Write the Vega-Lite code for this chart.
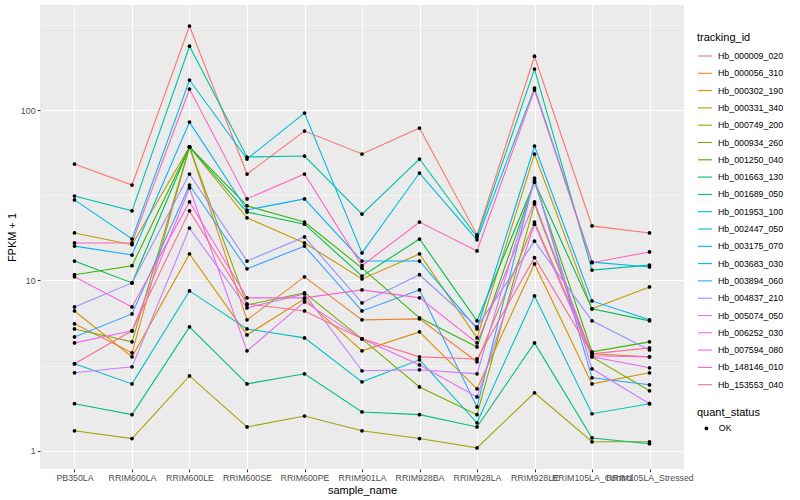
{
"$schema": "https://vega.github.io/schema/vega-lite/v6.json",
"width": 644, "height": 464,
"autosize": {"type": "none"},
"padding": {"left": 40, "top": 5, "right": 116, "bottom": 31},
"background": "white",
"config": {"view": {"fill": "#EBEBEB", "stroke": null}, "font": "Liberation Sans"},
"datasets": {"expr": [
{"tracking_id":"Hb_000009_020","sample_name":"PB350LA","fpkm_plus_1":48.2,"quant_status":"OK"},
{"tracking_id":"Hb_000009_020","sample_name":"RRIM600LA","fpkm_plus_1":36.3,"quant_status":"OK"},
{"tracking_id":"Hb_000009_020","sample_name":"RRIM600LE","fpkm_plus_1":311,"quant_status":"OK"},
{"tracking_id":"Hb_000009_020","sample_name":"RRIM600SE","fpkm_plus_1":42.1,"quant_status":"OK"},
{"tracking_id":"Hb_000009_020","sample_name":"RRIM600PE","fpkm_plus_1":75.3,"quant_status":"OK"},
{"tracking_id":"Hb_000009_020","sample_name":"RRIM901LA","fpkm_plus_1":55.2,"quant_status":"OK"},
{"tracking_id":"Hb_000009_020","sample_name":"RRIM928BA","fpkm_plus_1":78.4,"quant_status":"OK"},
{"tracking_id":"Hb_000009_020","sample_name":"RRIM928LA","fpkm_plus_1":18.5,"quant_status":"OK"},
{"tracking_id":"Hb_000009_020","sample_name":"RRIM928LE","fpkm_plus_1":207,"quant_status":"OK"},
{"tracking_id":"Hb_000009_020","sample_name":"RRIM105LA_Control","fpkm_plus_1":20.9,"quant_status":"OK"},
{"tracking_id":"Hb_000009_020","sample_name":"RRIM105LA_Stressed","fpkm_plus_1":19.0,"quant_status":"OK"},
{"tracking_id":"Hb_000056_310","sample_name":"PB350LA","fpkm_plus_1":5.56,"quant_status":"OK"},
{"tracking_id":"Hb_000056_310","sample_name":"RRIM600LA","fpkm_plus_1":3.76,"quant_status":"OK"},
{"tracking_id":"Hb_000056_310","sample_name":"RRIM600LE","fpkm_plus_1":60.7,"quant_status":"OK"},
{"tracking_id":"Hb_000056_310","sample_name":"RRIM600SE","fpkm_plus_1":5.87,"quant_status":"OK"},
{"tracking_id":"Hb_000056_310","sample_name":"RRIM600PE","fpkm_plus_1":10.5,"quant_status":"OK"},
{"tracking_id":"Hb_000056_310","sample_name":"RRIM901LA","fpkm_plus_1":5.87,"quant_status":"OK"},
{"tracking_id":"Hb_000056_310","sample_name":"RRIM928BA","fpkm_plus_1":5.95,"quant_status":"OK"},
{"tracking_id":"Hb_000056_310","sample_name":"RRIM928LA","fpkm_plus_1":3.33,"quant_status":"OK"},
{"tracking_id":"Hb_000056_310","sample_name":"RRIM928LE","fpkm_plus_1":22.0,"quant_status":"OK"},
{"tracking_id":"Hb_000056_310","sample_name":"RRIM105LA_Control","fpkm_plus_1":3.71,"quant_status":"OK"},
{"tracking_id":"Hb_000056_310","sample_name":"RRIM105LA_Stressed","fpkm_plus_1":3.56,"quant_status":"OK"},
{"tracking_id":"Hb_000302_190","sample_name":"PB350LA","fpkm_plus_1":6.62,"quant_status":"OK"},
{"tracking_id":"Hb_000302_190","sample_name":"RRIM600LA","fpkm_plus_1":3.56,"quant_status":"OK"},
{"tracking_id":"Hb_000302_190","sample_name":"RRIM600LE","fpkm_plus_1":14.3,"quant_status":"OK"},
{"tracking_id":"Hb_000302_190","sample_name":"RRIM600SE","fpkm_plus_1":4.79,"quant_status":"OK"},
{"tracking_id":"Hb_000302_190","sample_name":"RRIM600PE","fpkm_plus_1":7.79,"quant_status":"OK"},
{"tracking_id":"Hb_000302_190","sample_name":"RRIM901LA","fpkm_plus_1":3.86,"quant_status":"OK"},
{"tracking_id":"Hb_000302_190","sample_name":"RRIM928BA","fpkm_plus_1":4.99,"quant_status":"OK"},
{"tracking_id":"Hb_000302_190","sample_name":"RRIM928LA","fpkm_plus_1":2.31,"quant_status":"OK"},
{"tracking_id":"Hb_000302_190","sample_name":"RRIM928LE","fpkm_plus_1":12.5,"quant_status":"OK"},
{"tracking_id":"Hb_000302_190","sample_name":"RRIM105LA_Control","fpkm_plus_1":2.47,"quant_status":"OK"},
{"tracking_id":"Hb_000302_190","sample_name":"RRIM105LA_Stressed","fpkm_plus_1":2.87,"quant_status":"OK"},
{"tracking_id":"Hb_000331_340","sample_name":"PB350LA","fpkm_plus_1":19.0,"quant_status":"OK"},
{"tracking_id":"Hb_000331_340","sample_name":"RRIM600LA","fpkm_plus_1":16.2,"quant_status":"OK"},
{"tracking_id":"Hb_000331_340","sample_name":"RRIM600LE","fpkm_plus_1":60.7,"quant_status":"OK"},
{"tracking_id":"Hb_000331_340","sample_name":"RRIM600SE","fpkm_plus_1":23.3,"quant_status":"OK"},
{"tracking_id":"Hb_000331_340","sample_name":"RRIM600PE","fpkm_plus_1":16.6,"quant_status":"OK"},
{"tracking_id":"Hb_000331_340","sample_name":"RRIM901LA","fpkm_plus_1":10.2,"quant_status":"OK"},
{"tracking_id":"Hb_000331_340","sample_name":"RRIM928BA","fpkm_plus_1":14.3,"quant_status":"OK"},
{"tracking_id":"Hb_000331_340","sample_name":"RRIM928LA","fpkm_plus_1":4.60,"quant_status":"OK"},
{"tracking_id":"Hb_000331_340","sample_name":"RRIM928LE","fpkm_plus_1":55.2,"quant_status":"OK"},
{"tracking_id":"Hb_000331_340","sample_name":"RRIM105LA_Control","fpkm_plus_1":6.81,"quant_status":"OK"},
{"tracking_id":"Hb_000331_340","sample_name":"RRIM105LA_Stressed","fpkm_plus_1":9.16,"quant_status":"OK"},
{"tracking_id":"Hb_000749_200","sample_name":"PB350LA","fpkm_plus_1":1.31,"quant_status":"OK"},
{"tracking_id":"Hb_000749_200","sample_name":"RRIM600LA","fpkm_plus_1":1.18,"quant_status":"OK"},
{"tracking_id":"Hb_000749_200","sample_name":"RRIM600LE","fpkm_plus_1":2.75,"quant_status":"OK"},
{"tracking_id":"Hb_000749_200","sample_name":"RRIM600SE","fpkm_plus_1":1.38,"quant_status":"OK"},
{"tracking_id":"Hb_000749_200","sample_name":"RRIM600PE","fpkm_plus_1":1.60,"quant_status":"OK"},
{"tracking_id":"Hb_000749_200","sample_name":"RRIM901LA","fpkm_plus_1":1.31,"quant_status":"OK"},
{"tracking_id":"Hb_000749_200","sample_name":"RRIM928BA","fpkm_plus_1":1.18,"quant_status":"OK"},
{"tracking_id":"Hb_000749_200","sample_name":"RRIM928LA","fpkm_plus_1":1.04,"quant_status":"OK"},
{"tracking_id":"Hb_000749_200","sample_name":"RRIM928LE","fpkm_plus_1":2.19,"quant_status":"OK"},
{"tracking_id":"Hb_000749_200","sample_name":"RRIM105LA_Control","fpkm_plus_1":1.13,"quant_status":"OK"},
{"tracking_id":"Hb_000749_200","sample_name":"RRIM105LA_Stressed","fpkm_plus_1":1.13,"quant_status":"OK"},
{"tracking_id":"Hb_000934_260","sample_name":"PB350LA","fpkm_plus_1":5.19,"quant_status":"OK"},
{"tracking_id":"Hb_000934_260","sample_name":"RRIM600LA","fpkm_plus_1":4.36,"quant_status":"OK"},
{"tracking_id":"Hb_000934_260","sample_name":"RRIM600LE","fpkm_plus_1":60.7,"quant_status":"OK"},
{"tracking_id":"Hb_000934_260","sample_name":"RRIM600SE","fpkm_plus_1":7.18,"quant_status":"OK"},
{"tracking_id":"Hb_000934_260","sample_name":"RRIM600PE","fpkm_plus_1":8.45,"quant_status":"OK"},
{"tracking_id":"Hb_000934_260","sample_name":"RRIM901LA","fpkm_plus_1":4.54,"quant_status":"OK"},
{"tracking_id":"Hb_000934_260","sample_name":"RRIM928BA","fpkm_plus_1":2.37,"quant_status":"OK"},
{"tracking_id":"Hb_000934_260","sample_name":"RRIM928LA","fpkm_plus_1":1.63,"quant_status":"OK"},
{"tracking_id":"Hb_000934_260","sample_name":"RRIM928LE","fpkm_plus_1":28.1,"quant_status":"OK"},
{"tracking_id":"Hb_000934_260","sample_name":"RRIM105LA_Control","fpkm_plus_1":3.56,"quant_status":"OK"},
{"tracking_id":"Hb_000934_260","sample_name":"RRIM105LA_Stressed","fpkm_plus_1":2.25,"quant_status":"OK"},
{"tracking_id":"Hb_001250_040","sample_name":"PB350LA","fpkm_plus_1":10.8,"quant_status":"OK"},
{"tracking_id":"Hb_001250_040","sample_name":"RRIM600LA","fpkm_plus_1":12.2,"quant_status":"OK"},
{"tracking_id":"Hb_001250_040","sample_name":"RRIM600LE","fpkm_plus_1":60.7,"quant_status":"OK"},
{"tracking_id":"Hb_001250_040","sample_name":"RRIM600SE","fpkm_plus_1":27.4,"quant_status":"OK"},
{"tracking_id":"Hb_001250_040","sample_name":"RRIM600PE","fpkm_plus_1":22.0,"quant_status":"OK"},
{"tracking_id":"Hb_001250_040","sample_name":"RRIM901LA","fpkm_plus_1":11.8,"quant_status":"OK"},
{"tracking_id":"Hb_001250_040","sample_name":"RRIM928BA","fpkm_plus_1":6.03,"quant_status":"OK"},
{"tracking_id":"Hb_001250_040","sample_name":"RRIM928LA","fpkm_plus_1":4.07,"quant_status":"OK"},
{"tracking_id":"Hb_001250_040","sample_name":"RRIM928LE","fpkm_plus_1":37.8,"quant_status":"OK"},
{"tracking_id":"Hb_001250_040","sample_name":"RRIM105LA_Control","fpkm_plus_1":3.81,"quant_status":"OK"},
{"tracking_id":"Hb_001250_040","sample_name":"RRIM105LA_Stressed","fpkm_plus_1":4.36,"quant_status":"OK"},
{"tracking_id":"Hb_001663_130","sample_name":"PB350LA","fpkm_plus_1":13.0,"quant_status":"OK"},
{"tracking_id":"Hb_001663_130","sample_name":"RRIM600LA","fpkm_plus_1":9.67,"quant_status":"OK"},
{"tracking_id":"Hb_001663_130","sample_name":"RRIM600LE","fpkm_plus_1":60.7,"quant_status":"OK"},
{"tracking_id":"Hb_001663_130","sample_name":"RRIM600SE","fpkm_plus_1":25.2,"quant_status":"OK"},
{"tracking_id":"Hb_001663_130","sample_name":"RRIM600PE","fpkm_plus_1":21.4,"quant_status":"OK"},
{"tracking_id":"Hb_001663_130","sample_name":"RRIM901LA","fpkm_plus_1":10.6,"quant_status":"OK"},
{"tracking_id":"Hb_001663_130","sample_name":"RRIM928BA","fpkm_plus_1":17.5,"quant_status":"OK"},
{"tracking_id":"Hb_001663_130","sample_name":"RRIM928LA","fpkm_plus_1":5.79,"quant_status":"OK"},
{"tracking_id":"Hb_001663_130","sample_name":"RRIM928LE","fpkm_plus_1":37.8,"quant_status":"OK"},
{"tracking_id":"Hb_001663_130","sample_name":"RRIM105LA_Control","fpkm_plus_1":6.81,"quant_status":"OK"},
{"tracking_id":"Hb_001663_130","sample_name":"RRIM105LA_Stressed","fpkm_plus_1":5.79,"quant_status":"OK"},
{"tracking_id":"Hb_001689_050","sample_name":"PB350LA","fpkm_plus_1":1.89,"quant_status":"OK"},
{"tracking_id":"Hb_001689_050","sample_name":"RRIM600LA","fpkm_plus_1":1.63,"quant_status":"OK"},
{"tracking_id":"Hb_001689_050","sample_name":"RRIM600LE","fpkm_plus_1":5.34,"quant_status":"OK"},
{"tracking_id":"Hb_001689_050","sample_name":"RRIM600SE","fpkm_plus_1":2.47,"quant_status":"OK"},
{"tracking_id":"Hb_001689_050","sample_name":"RRIM600PE","fpkm_plus_1":2.83,"quant_status":"OK"},
{"tracking_id":"Hb_001689_050","sample_name":"RRIM901LA","fpkm_plus_1":1.69,"quant_status":"OK"},
{"tracking_id":"Hb_001689_050","sample_name":"RRIM928BA","fpkm_plus_1":1.63,"quant_status":"OK"},
{"tracking_id":"Hb_001689_050","sample_name":"RRIM928LA","fpkm_plus_1":1.38,"quant_status":"OK"},
{"tracking_id":"Hb_001689_050","sample_name":"RRIM928LE","fpkm_plus_1":4.30,"quant_status":"OK"},
{"tracking_id":"Hb_001689_050","sample_name":"RRIM105LA_Control","fpkm_plus_1":1.19,"quant_status":"OK"},
{"tracking_id":"Hb_001689_050","sample_name":"RRIM105LA_Stressed","fpkm_plus_1":1.10,"quant_status":"OK"},
{"tracking_id":"Hb_001953_100","sample_name":"PB350LA","fpkm_plus_1":31.3,"quant_status":"OK"},
{"tracking_id":"Hb_001953_100","sample_name":"RRIM600LA","fpkm_plus_1":25.6,"quant_status":"OK"},
{"tracking_id":"Hb_001953_100","sample_name":"RRIM600LE","fpkm_plus_1":237,"quant_status":"OK"},
{"tracking_id":"Hb_001953_100","sample_name":"RRIM600SE","fpkm_plus_1":53.0,"quant_status":"OK"},
{"tracking_id":"Hb_001953_100","sample_name":"RRIM600PE","fpkm_plus_1":53.7,"quant_status":"OK"},
{"tracking_id":"Hb_001953_100","sample_name":"RRIM901LA","fpkm_plus_1":24.5,"quant_status":"OK"},
{"tracking_id":"Hb_001953_100","sample_name":"RRIM928BA","fpkm_plus_1":51.6,"quant_status":"OK"},
{"tracking_id":"Hb_001953_100","sample_name":"RRIM928LA","fpkm_plus_1":18.0,"quant_status":"OK"},
{"tracking_id":"Hb_001953_100","sample_name":"RRIM928LE","fpkm_plus_1":174,"quant_status":"OK"},
{"tracking_id":"Hb_001953_100","sample_name":"RRIM105LA_Control","fpkm_plus_1":11.5,"quant_status":"OK"},
{"tracking_id":"Hb_001953_100","sample_name":"RRIM105LA_Stressed","fpkm_plus_1":12.3,"quant_status":"OK"},
{"tracking_id":"Hb_002447_050","sample_name":"PB350LA","fpkm_plus_1":3.24,"quant_status":"OK"},
{"tracking_id":"Hb_002447_050","sample_name":"RRIM600LA","fpkm_plus_1":2.47,"quant_status":"OK"},
{"tracking_id":"Hb_002447_050","sample_name":"RRIM600LE","fpkm_plus_1":8.68,"quant_status":"OK"},
{"tracking_id":"Hb_002447_050","sample_name":"RRIM600SE","fpkm_plus_1":5.19,"quant_status":"OK"},
{"tracking_id":"Hb_002447_050","sample_name":"RRIM600PE","fpkm_plus_1":4.60,"quant_status":"OK"},
{"tracking_id":"Hb_002447_050","sample_name":"RRIM901LA","fpkm_plus_1":2.54,"quant_status":"OK"},
{"tracking_id":"Hb_002447_050","sample_name":"RRIM928BA","fpkm_plus_1":3.42,"quant_status":"OK"},
{"tracking_id":"Hb_002447_050","sample_name":"RRIM928LA","fpkm_plus_1":1.46,"quant_status":"OK"},
{"tracking_id":"Hb_002447_050","sample_name":"RRIM928LE","fpkm_plus_1":8.11,"quant_status":"OK"},
{"tracking_id":"Hb_002447_050","sample_name":"RRIM105LA_Control","fpkm_plus_1":1.65,"quant_status":"OK"},
{"tracking_id":"Hb_002447_050","sample_name":"RRIM105LA_Stressed","fpkm_plus_1":1.89,"quant_status":"OK"},
{"tracking_id":"Hb_003175_070","sample_name":"PB350LA","fpkm_plus_1":29.7,"quant_status":"OK"},
{"tracking_id":"Hb_003175_070","sample_name":"RRIM600LA","fpkm_plus_1":17.5,"quant_status":"OK"},
{"tracking_id":"Hb_003175_070","sample_name":"RRIM600LE","fpkm_plus_1":150,"quant_status":"OK"},
{"tracking_id":"Hb_003175_070","sample_name":"RRIM600SE","fpkm_plus_1":51.6,"quant_status":"OK"},
{"tracking_id":"Hb_003175_070","sample_name":"RRIM600PE","fpkm_plus_1":96.0,"quant_status":"OK"},
{"tracking_id":"Hb_003175_070","sample_name":"RRIM901LA","fpkm_plus_1":14.5,"quant_status":"OK"},
{"tracking_id":"Hb_003175_070","sample_name":"RRIM928BA","fpkm_plus_1":42.7,"quant_status":"OK"},
{"tracking_id":"Hb_003175_070","sample_name":"RRIM928LA","fpkm_plus_1":17.3,"quant_status":"OK"},
{"tracking_id":"Hb_003175_070","sample_name":"RRIM928LE","fpkm_plus_1":134.6,"quant_status":"OK"},
{"tracking_id":"Hb_003175_070","sample_name":"RRIM105LA_Control","fpkm_plus_1":12.8,"quant_status":"OK"},
{"tracking_id":"Hb_003175_070","sample_name":"RRIM105LA_Stressed","fpkm_plus_1":12.0,"quant_status":"OK"},
{"tracking_id":"Hb_003683_030","sample_name":"PB350LA","fpkm_plus_1":15.9,"quant_status":"OK"},
{"tracking_id":"Hb_003683_030","sample_name":"RRIM600LA","fpkm_plus_1":14.1,"quant_status":"OK"},
{"tracking_id":"Hb_003683_030","sample_name":"RRIM600LE","fpkm_plus_1":85.0,"quant_status":"OK"},
{"tracking_id":"Hb_003683_030","sample_name":"RRIM600SE","fpkm_plus_1":25.9,"quant_status":"OK"},
{"tracking_id":"Hb_003683_030","sample_name":"RRIM600PE","fpkm_plus_1":30.1,"quant_status":"OK"},
{"tracking_id":"Hb_003683_030","sample_name":"RRIM901LA","fpkm_plus_1":13.0,"quant_status":"OK"},
{"tracking_id":"Hb_003683_030","sample_name":"RRIM928BA","fpkm_plus_1":13.0,"quant_status":"OK"},
{"tracking_id":"Hb_003683_030","sample_name":"RRIM928LA","fpkm_plus_1":5.19,"quant_status":"OK"},
{"tracking_id":"Hb_003683_030","sample_name":"RRIM928LE","fpkm_plus_1":61.5,"quant_status":"OK"},
{"tracking_id":"Hb_003683_030","sample_name":"RRIM105LA_Control","fpkm_plus_1":7.58,"quant_status":"OK"},
{"tracking_id":"Hb_003683_030","sample_name":"RRIM105LA_Stressed","fpkm_plus_1":5.87,"quant_status":"OK"},
{"tracking_id":"Hb_003894_060","sample_name":"PB350LA","fpkm_plus_1":4.66,"quant_status":"OK"},
{"tracking_id":"Hb_003894_060","sample_name":"RRIM600LA","fpkm_plus_1":6.36,"quant_status":"OK"},
{"tracking_id":"Hb_003894_060","sample_name":"RRIM600LE","fpkm_plus_1":36.3,"quant_status":"OK"},
{"tracking_id":"Hb_003894_060","sample_name":"RRIM600SE","fpkm_plus_1":11.7,"quant_status":"OK"},
{"tracking_id":"Hb_003894_060","sample_name":"RRIM600PE","fpkm_plus_1":15.9,"quant_status":"OK"},
{"tracking_id":"Hb_003894_060","sample_name":"RRIM901LA","fpkm_plus_1":6.62,"quant_status":"OK"},
{"tracking_id":"Hb_003894_060","sample_name":"RRIM928BA","fpkm_plus_1":8.80,"quant_status":"OK"},
{"tracking_id":"Hb_003894_060","sample_name":"RRIM928LA","fpkm_plus_1":1.81,"quant_status":"OK"},
{"tracking_id":"Hb_003894_060","sample_name":"RRIM928LE","fpkm_plus_1":39.9,"quant_status":"OK"},
{"tracking_id":"Hb_003894_060","sample_name":"RRIM105LA_Control","fpkm_plus_1":2.68,"quant_status":"OK"},
{"tracking_id":"Hb_003894_060","sample_name":"RRIM105LA_Stressed","fpkm_plus_1":2.44,"quant_status":"OK"},
{"tracking_id":"Hb_004837_210","sample_name":"PB350LA","fpkm_plus_1":6.99,"quant_status":"OK"},
{"tracking_id":"Hb_004837_210","sample_name":"RRIM600LA","fpkm_plus_1":9.67,"quant_status":"OK"},
{"tracking_id":"Hb_004837_210","sample_name":"RRIM600LE","fpkm_plus_1":42.1,"quant_status":"OK"},
{"tracking_id":"Hb_004837_210","sample_name":"RRIM600SE","fpkm_plus_1":13.0,"quant_status":"OK"},
{"tracking_id":"Hb_004837_210","sample_name":"RRIM600PE","fpkm_plus_1":18.0,"quant_status":"OK"},
{"tracking_id":"Hb_004837_210","sample_name":"RRIM901LA","fpkm_plus_1":7.38,"quant_status":"OK"},
{"tracking_id":"Hb_004837_210","sample_name":"RRIM928BA","fpkm_plus_1":10.8,"quant_status":"OK"},
{"tracking_id":"Hb_004837_210","sample_name":"RRIM928LA","fpkm_plus_1":5.34,"quant_status":"OK"},
{"tracking_id":"Hb_004837_210","sample_name":"RRIM928LE","fpkm_plus_1":17.0,"quant_status":"OK"},
{"tracking_id":"Hb_004837_210","sample_name":"RRIM105LA_Control","fpkm_plus_1":5.79,"quant_status":"OK"},
{"tracking_id":"Hb_004837_210","sample_name":"RRIM105LA_Stressed","fpkm_plus_1":3.91,"quant_status":"OK"},
{"tracking_id":"Hb_005074_050","sample_name":"PB350LA","fpkm_plus_1":2.87,"quant_status":"OK"},
{"tracking_id":"Hb_005074_050","sample_name":"RRIM600LA","fpkm_plus_1":3.11,"quant_status":"OK"},
{"tracking_id":"Hb_005074_050","sample_name":"RRIM600LE","fpkm_plus_1":20.3,"quant_status":"OK"},
{"tracking_id":"Hb_005074_050","sample_name":"RRIM600SE","fpkm_plus_1":6.90,"quant_status":"OK"},
{"tracking_id":"Hb_005074_050","sample_name":"RRIM600PE","fpkm_plus_1":8.33,"quant_status":"OK"},
{"tracking_id":"Hb_005074_050","sample_name":"RRIM901LA","fpkm_plus_1":2.95,"quant_status":"OK"},
{"tracking_id":"Hb_005074_050","sample_name":"RRIM928BA","fpkm_plus_1":2.99,"quant_status":"OK"},
{"tracking_id":"Hb_005074_050","sample_name":"RRIM928LA","fpkm_plus_1":2.83,"quant_status":"OK"},
{"tracking_id":"Hb_005074_050","sample_name":"RRIM928LE","fpkm_plus_1":38.9,"quant_status":"OK"},
{"tracking_id":"Hb_005074_050","sample_name":"RRIM105LA_Control","fpkm_plus_1":3.03,"quant_status":"OK"},
{"tracking_id":"Hb_005074_050","sample_name":"RRIM105LA_Stressed","fpkm_plus_1":1.89,"quant_status":"OK"},
{"tracking_id":"Hb_006252_030","sample_name":"PB350LA","fpkm_plus_1":4.30,"quant_status":"OK"},
{"tracking_id":"Hb_006252_030","sample_name":"RRIM600LA","fpkm_plus_1":5.06,"quant_status":"OK"},
{"tracking_id":"Hb_006252_030","sample_name":"RRIM600LE","fpkm_plus_1":34.9,"quant_status":"OK"},
{"tracking_id":"Hb_006252_030","sample_name":"RRIM600SE","fpkm_plus_1":3.86,"quant_status":"OK"},
{"tracking_id":"Hb_006252_030","sample_name":"RRIM600PE","fpkm_plus_1":7.48,"quant_status":"OK"},
{"tracking_id":"Hb_006252_030","sample_name":"RRIM901LA","fpkm_plus_1":4.54,"quant_status":"OK"},
{"tracking_id":"Hb_006252_030","sample_name":"RRIM928BA","fpkm_plus_1":3.19,"quant_status":"OK"},
{"tracking_id":"Hb_006252_030","sample_name":"RRIM928LA","fpkm_plus_1":2.07,"quant_status":"OK"},
{"tracking_id":"Hb_006252_030","sample_name":"RRIM928LE","fpkm_plus_1":21.4,"quant_status":"OK"},
{"tracking_id":"Hb_006252_030","sample_name":"RRIM105LA_Control","fpkm_plus_1":3.56,"quant_status":"OK"},
{"tracking_id":"Hb_006252_030","sample_name":"RRIM105LA_Stressed","fpkm_plus_1":3.07,"quant_status":"OK"},
{"tracking_id":"Hb_007594_080","sample_name":"PB350LA","fpkm_plus_1":10.5,"quant_status":"OK"},
{"tracking_id":"Hb_007594_080","sample_name":"RRIM600LA","fpkm_plus_1":6.99,"quant_status":"OK"},
{"tracking_id":"Hb_007594_080","sample_name":"RRIM600LE","fpkm_plus_1":28.9,"quant_status":"OK"},
{"tracking_id":"Hb_007594_080","sample_name":"RRIM600SE","fpkm_plus_1":7.90,"quant_status":"OK"},
{"tracking_id":"Hb_007594_080","sample_name":"RRIM600PE","fpkm_plus_1":7.90,"quant_status":"OK"},
{"tracking_id":"Hb_007594_080","sample_name":"RRIM901LA","fpkm_plus_1":8.80,"quant_status":"OK"},
{"tracking_id":"Hb_007594_080","sample_name":"RRIM928BA","fpkm_plus_1":7.90,"quant_status":"OK"},
{"tracking_id":"Hb_007594_080","sample_name":"RRIM928LA","fpkm_plus_1":4.30,"quant_status":"OK"},
{"tracking_id":"Hb_007594_080","sample_name":"RRIM928LE","fpkm_plus_1":28.9,"quant_status":"OK"},
{"tracking_id":"Hb_007594_080","sample_name":"RRIM105LA_Control","fpkm_plus_1":3.61,"quant_status":"OK"},
{"tracking_id":"Hb_007594_080","sample_name":"RRIM105LA_Stressed","fpkm_plus_1":3.56,"quant_status":"OK"},
{"tracking_id":"Hb_148146_010","sample_name":"PB350LA","fpkm_plus_1":16.6,"quant_status":"OK"},
{"tracking_id":"Hb_148146_010","sample_name":"RRIM600LA","fpkm_plus_1":16.6,"quant_status":"OK"},
{"tracking_id":"Hb_148146_010","sample_name":"RRIM600LE","fpkm_plus_1":132.8,"quant_status":"OK"},
{"tracking_id":"Hb_148146_010","sample_name":"RRIM600SE","fpkm_plus_1":30.1,"quant_status":"OK"},
{"tracking_id":"Hb_148146_010","sample_name":"RRIM600PE","fpkm_plus_1":42.1,"quant_status":"OK"},
{"tracking_id":"Hb_148146_010","sample_name":"RRIM901LA","fpkm_plus_1":12.2,"quant_status":"OK"},
{"tracking_id":"Hb_148146_010","sample_name":"RRIM928BA","fpkm_plus_1":22.0,"quant_status":"OK"},
{"tracking_id":"Hb_148146_010","sample_name":"RRIM928LA","fpkm_plus_1":14.9,"quant_status":"OK"},
{"tracking_id":"Hb_148146_010","sample_name":"RRIM928LE","fpkm_plus_1":131.0,"quant_status":"OK"},
{"tracking_id":"Hb_148146_010","sample_name":"RRIM105LA_Control","fpkm_plus_1":12.7,"quant_status":"OK"},
{"tracking_id":"Hb_148146_010","sample_name":"RRIM105LA_Stressed","fpkm_plus_1":14.7,"quant_status":"OK"},
{"tracking_id":"Hb_153553_040","sample_name":"PB350LA","fpkm_plus_1":3.24,"quant_status":"OK"},
{"tracking_id":"Hb_153553_040","sample_name":"RRIM600LA","fpkm_plus_1":5.06,"quant_status":"OK"},
{"tracking_id":"Hb_153553_040","sample_name":"RRIM600LE","fpkm_plus_1":25.6,"quant_status":"OK"},
{"tracking_id":"Hb_153553_040","sample_name":"RRIM600SE","fpkm_plus_1":7.28,"quant_status":"OK"},
{"tracking_id":"Hb_153553_040","sample_name":"RRIM600PE","fpkm_plus_1":6.62,"quant_status":"OK"},
{"tracking_id":"Hb_153553_040","sample_name":"RRIM901LA","fpkm_plus_1":4.54,"quant_status":"OK"},
{"tracking_id":"Hb_153553_040","sample_name":"RRIM928BA","fpkm_plus_1":3.56,"quant_status":"OK"},
{"tracking_id":"Hb_153553_040","sample_name":"RRIM928LA","fpkm_plus_1":3.46,"quant_status":"OK"},
{"tracking_id":"Hb_153553_040","sample_name":"RRIM928LE","fpkm_plus_1":13.6,"quant_status":"OK"},
{"tracking_id":"Hb_153553_040","sample_name":"RRIM105LA_Control","fpkm_plus_1":3.71,"quant_status":"OK"},
{"tracking_id":"Hb_153553_040","sample_name":"RRIM105LA_Stressed","fpkm_plus_1":4.02,"quant_status":"OK"}
]},
"data": {"name": "expr"},
"encoding": {
  "x": {"field": "sample_name", "type": "nominal",
    "sort": ["PB350LA","RRIM600LA","RRIM600LE","RRIM600SE","RRIM600PE","RRIM901LA","RRIM928BA","RRIM928LA","RRIM928LE","RRIM105LA_Control","RRIM105LA_Stressed"],
    "scale": {"type": "point", "padding": 0.6},
    "axis": {"title": "sample_name", "titleFontSize": 11, "titleFontWeight": "normal", "titleColor": "black", "titlePadding": 2,
      "labelFontSize": 8.8, "labelColor": "#4D4D4D", "labelPadding": 2.2, "labelAngle": 0, "labelOverlap": false, "labelFlush": false, "labelBound": false,
      "tickSize": 2.75, "tickColor": "#333333", "tickWidth": 1.07, "domain": false,
      "grid": true, "gridColor": "white", "gridWidth": 1.07}},
  "y": {"field": "fpkm_plus_1", "type": "quantitative",
    "scale": {"type": "log", "domain": [0.782, 413.6], "nice": false},
    "axis": {"title": "FPKM + 1", "titleFontSize": 11, "titleFontWeight": "normal", "titleColor": "black", "titlePadding": 3,
      "values": [1, 3.1623, 10, 31.623, 100, 316.23],
      "labelExpr": "datum.value == 1 ? '1' : datum.value == 10 ? '10' : datum.value == 100 ? '100' : ''",
      "labelFontSize": 8.8, "labelColor": "#4D4D4D", "labelPadding": 2.2,
      "tickSize": 2.75, "tickWidth": 1.07,
      "tickColor": {"condition": {"test": "datum.value == 1 || datum.value == 10 || datum.value == 100", "value": "#333333"}, "value": "transparent"},
      "domain": false, "grid": true, "gridColor": "white",
      "gridWidth": {"condition": {"test": "datum.value == 1 || datum.value == 10 || datum.value == 100", "value": 1.07}, "value": 0.53}}}
},
"layer": [
  {"mark": {"type": "line", "strokeWidth": 1.1},
   "encoding": {
     "order": {"value": null},
     "color": {"field": "tracking_id", "type": "nominal",
       "scale": {"domain": ["Hb_000009_020","Hb_000056_310","Hb_000302_190","Hb_000331_340","Hb_000749_200","Hb_000934_260","Hb_001250_040","Hb_001663_130","Hb_001689_050","Hb_001953_100","Hb_002447_050","Hb_003175_070","Hb_003683_030","Hb_003894_060","Hb_004837_210","Hb_005074_050","Hb_006252_030","Hb_007594_080","Hb_148146_010","Hb_153553_040"],
         "range": ["#F8766D","#EA8331","#D89000","#C09B00","#A3A500","#7CAE00","#39B600","#00BB4E","#00BF7D","#00C1A3","#00BFC4","#00BAE0","#00B0F6","#35A2FF","#9590FF","#C77CFF","#E76BF3","#FA62DB","#FF62BC","#FF6C91"]},
       "legend": {"orient": "none", "legendX": 657, "legendY": 27, "title": "tracking_id", "titleFontSize": 11, "titleFontWeight": "normal", "titleColor": "black", "titlePadding": 5,
         "labelFontSize": 8.8, "labelColor": "black", "labelOffset": 5, "symbolType": "stroke", "symbolSize": 196, "symbolStrokeWidth": 1.1, "rowPadding": 4.3}}}},
  {"mark": {"type": "point", "filled": true, "size": 14, "opacity": 1, "color": "black"},
   "encoding": {
     "shape": {"field": "quant_status", "type": "nominal", "scale": {"range": ["circle"]},
       "legend": {"orient": "none", "legendX": 657, "legendY": 402, "title": "quant_status", "titleFontSize": 11, "titleFontWeight": "normal", "titleColor": "black", "titlePadding": 6,
         "labelFontSize": 8.8, "labelColor": "black", "labelOffset": 8, "symbolSize": 14, "symbolFillColor": "black", "symbolStrokeColor": "black", "symbolOffset": 5}}}}
]
}
